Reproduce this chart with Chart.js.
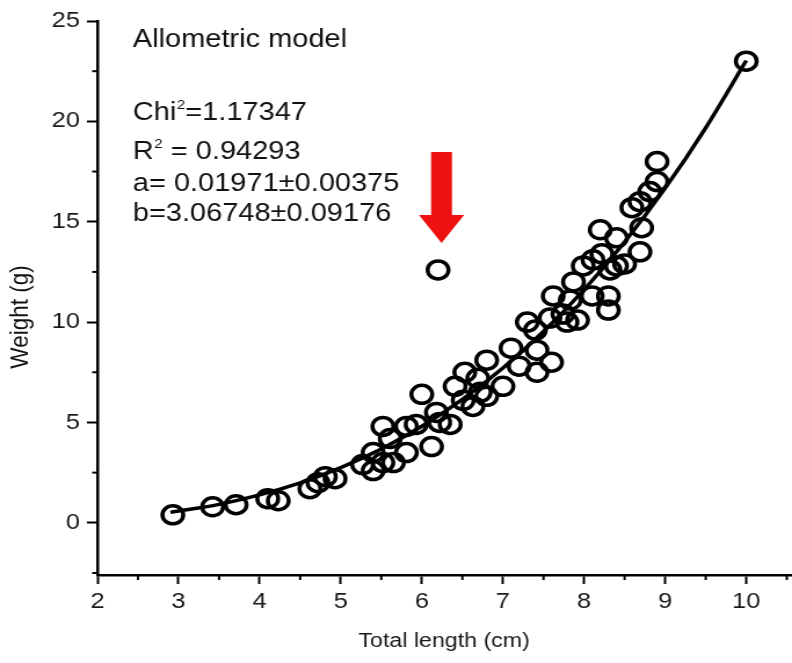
<!DOCTYPE html>
<html><head><meta charset="utf-8">
<script src="https://cdn.jsdelivr.net/npm/chart.js@4/dist/chart.umd.min.js"></script>
<style>
html,body{margin:0;padding:0;background:#fff;overflow:hidden;}
#wrap{width:683px;height:663px;transform:scaleX(1.1596);transform-origin:0 0;}
canvas{display:block;}
</style></head><body>
<div id="wrap"><canvas id="c" width="683" height="663"></canvas></div>
<script>
// Observed fish: total length (cm) and weight (g)
const lengthCm = [2.93,3.42,3.71,4.10,4.23,4.62,4.72,4.81,4.93,5.27,5.40,5.52,5.65,5.81,
  5.40,5.52,5.61,5.81,5.93,6.00,6.12,6.18,6.22,6.35,6.41,6.51,6.53,6.63,6.69,6.72,6.80,6.80,
  7.00,7.10,7.20,7.30,7.40,7.42,7.42,7.60,7.58,7.74,7.92,7.79,7.62,7.83,8.10,8.30,8.30,
  7.99,8.11,8.20,8.32,8.40,8.40,8.50,8.59,8.69,8.81,8.90,8.90,8.71,8.69,7.87,8.22,10.0];
const weightG = [0.4,0.8,0.9,1.2,1.1,1.7,2.0,2.3,2.2,2.9,2.6,3.0,3.0,3.5,
  3.5,4.8,4.2,4.8,4.9,6.4,3.8,5.5,5.0,4.9,6.8,6.1,7.5,5.8,7.2,6.5,8.1,6.3,
  6.8,8.7,7.8,10.0,9.6,7.5,8.6,8.0,10.2,10.4,10.1,10.0,11.3,11.1,11.3,11.3,10.6,
  12.8,13.1,14.6,12.6,12.8,14.2,12.9,15.7,16.0,16.5,17.0,18.0,14.7,13.5,12.0,13.4,23.0];
// Outlier marked by the red arrow
const outlierLength = [6.20];
const outlierWeight = [12.6];
// Allometric fit curve
const fitLength = [2.9,3.5,4.0,4.5,5.0,5.5,6.0,6.5,7.0,7.5,8.0,8.5,9.0,9.5,10.0];
const fitWeight = [0.52,0.92,1.39,1.99,2.75,3.68,4.81,6.15,7.71,9.53,11.61,13.99,16.67,19.68,23.03];
// Tick labels / annotation texts
const xTitle = 'Total length (cm)';
const yTitle = 'Weight (g)';
const modelName = 'Allometric model';
const statLines = [['Chi','2','=1.17347'],['R','2',' = 0.94293'],['a= 0.01971\u00b10.00375','',''],['b=3.06748\u00b10.09176','','']];

const FONT = '"Liberation Sans", Arial, sans-serif';
const pts = lengthCm.map((x,i)=>({x, y: weightG[i]}));
outlierLength.forEach((x,i)=>pts.push({x, y: outlierWeight[i]}));
const fit = fitLength.map((x,i)=>({x, y: fitWeight[i]}));

const isMajorX = v => Math.abs(v - Math.round(v)) < 1e-6;
const isMajorY = v => Math.abs(v/5 - Math.round(v/5)) < 1e-6;

const extras = {
  id: 'extras',
  afterDraw(chart) {
    const ctx = chart.ctx;
    const xs = chart.scales.x, ys = chart.scales.y;
    ctx.save();
    // minor ticks
    ctx.strokeStyle = '#000'; ctx.lineWidth = 2;
    xs.ticks.forEach(t => {
      if (isMajorX(t.value)) return;
      const px = xs.getPixelForValue(t.value);
      ctx.beginPath(); ctx.moveTo(px, xs.top); ctx.lineTo(px, xs.top + 5); ctx.stroke();
    });
    ys.ticks.forEach(t => {
      if (isMajorY(t.value)) return;
      const py = ys.getPixelForValue(t.value);
      ctx.beginPath(); ctx.moveTo(ys.right, py); ctx.lineTo(ys.right - 4.5, py); ctx.stroke();
    });
    // annotation text
    ctx.fillStyle = '#111';
    ctx.textBaseline = 'alphabetic';
    ctx.textAlign = 'left';
    const tx = 114.5;
    ctx.font = '25px ' + FONT;
    ctx.fillText(modelName, tx, 47);
    const baselines = [120, 159, 191, 221];
    statLines.forEach((ln, i) => {
      let x = tx;
      ctx.font = '25px ' + FONT;
      ctx.fillText(ln[0], x, baselines[i]);
      x += ctx.measureText(ln[0]).width;
      if (ln[1]) {
        ctx.font = '13px ' + FONT;
        ctx.fillText(ln[1], x + 0.5, baselines[i] - 11);
        x += ctx.measureText(ln[1]).width + 0.5;
        ctx.font = '25px ' + FONT;
        ctx.fillText(ln[2], x, baselines[i]);
      }
    });
    // y title
    ctx.save();
    ctx.translate(18, 317);
    ctx.rotate(-Math.PI/2);
    ctx.textAlign = 'center'; ctx.textBaseline = 'middle';
    ctx.font = '22.5px ' + FONT;
    ctx.fillText(yTitle, 0, 0);
    ctx.restore();
    // red arrow pointing at the outlier
    const ox = xs.getPixelForValue(outlierLength[0]) + 3;
    const oy = ys.getPixelForValue(outlierWeight[0]);
    const tip = oy - 27, headTop = tip - 28, shaftTop = tip - 91;
    ctx.fillStyle = '#ee1111';
    ctx.beginPath();
    ctx.moveTo(ox - 9, shaftTop);
    ctx.lineTo(ox + 9, shaftTop);
    ctx.lineTo(ox + 9, headTop);
    ctx.lineTo(ox + 19.5, headTop);
    ctx.lineTo(ox, tip);
    ctx.lineTo(ox - 19.5, headTop);
    ctx.lineTo(ox - 9, headTop);
    ctx.closePath();
    ctx.fill();
    ctx.restore();
  }
};

new Chart(document.getElementById('c'), {
  type: 'scatter',
  data: {
    datasets: [
      { label: 'fit', data: fit, showLine: true, borderColor: '#000', borderWidth: 3.5,
        pointRadius: 0, cubicInterpolationMode: 'monotone', fill: false, order: 2 },
      { label: 'data', data: pts, pointRadius: 9, pointBorderWidth: 3.5, borderColor: '#000',
        backgroundColor: 'rgba(0,0,0,0)', pointBackgroundColor: 'rgba(0,0,0,0)', order: 1 }
    ]
  },
  options: {
    responsive: false,
    animation: false,
    devicePixelRatio: 1,
    layout: { autoPadding: false, padding: { top: 21, right: 1, left: 0, bottom: 0 } },
    plugins: { legend: { display: false }, tooltip: { enabled: false } },
    scales: {
      x: {
        type: 'linear', min: 2, max: 10.55,
        afterFit: s => { s.height = 88; s.paddingLeft = 0; s.paddingRight = 0; },
        border: { display: true, color: '#000', width: 2.5 },
        grid: { drawOnChartArea: false, drawTicks: true, tickLength: 9, tickWidth: 2,
          tickColor: c => (c.tick && isMajorX(c.tick.value)) ? '#000' : 'rgba(0,0,0,0)' },
        ticks: { stepSize: 0.5, includeBounds: false, autoSkip: false, maxRotation: 0, padding: 5,
          color: '#1a1a1a', font: { family: FONT, size: 22 },
          callback: v => isMajorX(v) ? String(Math.round(v)) : '' },
        title: { display: true, text: xTitle, color: '#1a1a1a', font: { family: FONT, size: 20 },
          padding: { top: 0, bottom: 10 } }
      },
      y: {
        type: 'linear', min: -2.6, max: 25,
        afterFit: s => { s.width = 84; s.paddingTop = 0; s.paddingBottom = 0; },
        border: { display: true, color: '#000', width: 2.5 },
        grid: { drawOnChartArea: false, drawTicks: true, tickLength: 9, tickWidth: 2,
          tickColor: c => (c.tick && isMajorY(c.tick.value)) ? '#000' : 'rgba(0,0,0,0)' },
        ticks: { stepSize: 2.5, includeBounds: false, autoSkip: false, padding: 6,
          color: '#1a1a1a', font: { family: FONT, size: 22 },
          callback: v => isMajorY(v) ? String(Math.round(v)) : '' }
      }
    }
  },
  plugins: [extras]
});
</script>
</body></html>
